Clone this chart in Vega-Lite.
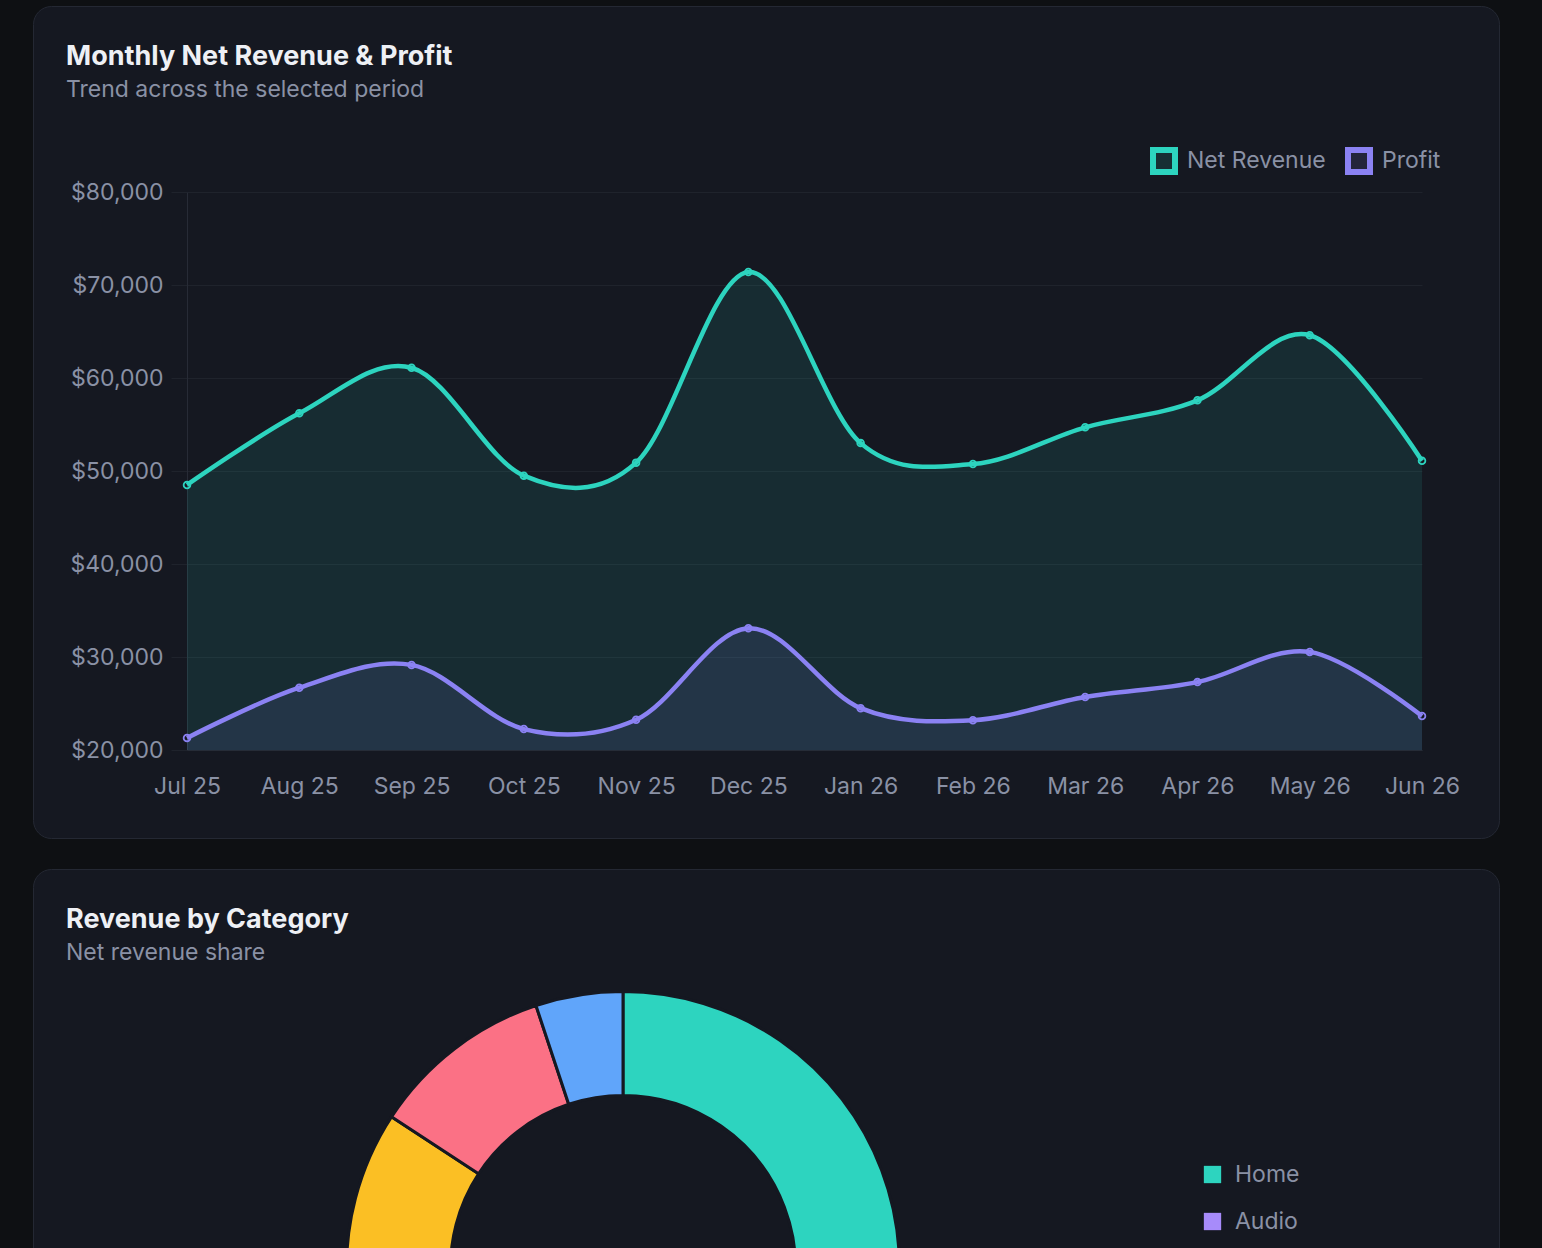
{
  "$schema": "https://vega.github.io/schema/vega-lite/v6.json",
  "background": "#0e1013",
  "padding": {"left": 32, "top": 5, "right": 44, "bottom": 0},
  "spacing": 29,
  "resolve": {
    "scale": {"color": "independent", "x": "independent", "y": "independent", "theta": "independent"},
    "legend": {"color": "independent"}
  },
  "config": {
    "font": "Inter",
    "view": {"stroke": null}
  },
  "vconcat": [
    {
      "width": 1466,
      "height": 832,
      "view": {"fill": "#151821", "stroke": "#242833", "strokeWidth": 1, "cornerRadius": 18},
      "title": {
        "text": "Monthly Net Revenue & Profit",
        "subtitle": "Trend across the selected period",
        "anchor": "start",
        "frame": "group",
        "offset": -97,
        "dx": 33,
        "font": "Inter",
        "fontSize": 27,
        "fontWeight": 700,
        "color": "#eef0f5",
        "subtitleFont": "Inter",
        "subtitleFontSize": 23,
        "subtitleColor": "#8a91a5",
        "subtitlePadding": 8
      },
      "data": {
        "values": [
          {"month": "Jul 25", "series": "Net Revenue", "value": 48500},
          {"month": "Aug 25", "series": "Net Revenue", "value": 56200},
          {"month": "Sep 25", "series": "Net Revenue", "value": 61100},
          {"month": "Oct 25", "series": "Net Revenue", "value": 49500},
          {"month": "Nov 25", "series": "Net Revenue", "value": 50900},
          {"month": "Dec 25", "series": "Net Revenue", "value": 71400},
          {"month": "Jan 26", "series": "Net Revenue", "value": 53000},
          {"month": "Feb 26", "series": "Net Revenue", "value": 50750},
          {"month": "Mar 26", "series": "Net Revenue", "value": 54700},
          {"month": "Apr 26", "series": "Net Revenue", "value": 57600},
          {"month": "May 26", "series": "Net Revenue", "value": 64600},
          {"month": "Jun 26", "series": "Net Revenue", "value": 51100},
          {"month": "Jul 25", "series": "Profit", "value": 21300},
          {"month": "Aug 25", "series": "Profit", "value": 26700},
          {"month": "Sep 25", "series": "Profit", "value": 29150},
          {"month": "Oct 25", "series": "Profit", "value": 22250},
          {"month": "Nov 25", "series": "Profit", "value": 23250},
          {"month": "Dec 25", "series": "Profit", "value": 33100},
          {"month": "Jan 26", "series": "Profit", "value": 24500},
          {"month": "Feb 26", "series": "Profit", "value": 23200},
          {"month": "Mar 26", "series": "Profit", "value": 25700},
          {"month": "Apr 26", "series": "Profit", "value": 27300},
          {"month": "May 26", "series": "Profit", "value": 30550},
          {"month": "Jun 26", "series": "Profit", "value": 23650}
        ]
      },
      "encoding": {
        "x": {
          "field": "month",
          "type": "ordinal",
          "sort": ["Jul 25", "Aug 25", "Sep 25", "Oct 25", "Nov 25", "Dec 25", "Jan 26", "Feb 26", "Mar 26", "Apr 26", "May 26", "Jun 26"],
          "scale": {"type": "point", "padding": 0, "range": [154, 1389]},
          "axis": {
            "title": null,
            "offset": -88,
            "ticks": false,
            "tickSize": 0,
            "grid": false,
            "domain": true,
            "domainColor": "#262c37",
            "labelAngle": 0,
            "labelFont": "Inter",
            "labelFontSize": 23,
            "labelColor": "#8a91a5",
            "labelPadding": 25,
            "zindex": 1
          }
        },
        "y": {
          "field": "value",
          "type": "quantitative",
          "stack": null,
          "scale": {"domain": [20000, 80000], "range": [744, 186], "nice": false, "zero": false},
          "axis": {
            "title": null,
            "offset": -154,
            "values": [20000, 30000, 40000, 50000, 60000, 70000, 80000],
            "format": "$,.0f",
            "grid": true,
            "gridColor": "#1f232c",
            "tickSize": 16,
            "tickColor": "#1f232c",
            "domain": true,
            "domainColor": "#272b36",
            "labelFont": "Inter",
            "labelFontSize": 23,
            "labelColor": "#8a91a5",
            "labelPadding": 8
          }
        },
        "color": {
          "field": "series",
          "type": "nominal",
          "scale": {"domain": ["Net Revenue", "Profit"], "range": ["#2dd4bf", "#8b82f3"]},
          "legend": {
            "orient": "none",
            "legendX": 1117,
            "legendY": 141,
            "direction": "horizontal",
            "title": null,
            "padding": 0,
            "symbolType": "square",
            "symbolSize": 484,
            "symbolStrokeWidth": 6,
            "labelFont": "Inter",
            "labelFontSize": 23,
            "labelColor": "#8a91a5",
            "labelOffset": 9,
            "columnPadding": 10,
            "encode": {
              "symbols": {
                "update": {
                  "fill": {"signal": "datum.value === 'Profit' ? '#a27cf8' : '#2dd4bf'"},
                  "fillOpacity": {"value": 0.12},
                  "stroke": {"signal": "datum.value === 'Profit' ? '#a27cf8' : '#2dd4bf'"},
                  "strokeWidth": {"value": 6},
                  "opacity": {"value": 1}
                }
              }
            }
          }
        }
      },
      "layer": [
        {
          "mark": {"type": "area", "interpolate": "cardinal", "fillOpacity": 0.11},
          "encoding": {"y2": {"datum": 20000}}
        },
        {
          "mark": {"type": "line", "interpolate": "cardinal", "strokeWidth": 4.5}
        },
        {
          "mark": {"type": "point", "filled": false, "size": 45, "strokeWidth": 1.8, "opacity": 1}
        }
      ]
    },
    {
      "width": 1466,
      "height": 798,
      "view": {"fill": "#151821", "stroke": "#242833", "strokeWidth": 1, "cornerRadius": 18},
      "title": {
        "text": "Revenue by Category",
        "subtitle": "Net revenue share",
        "anchor": "start",
        "frame": "group",
        "offset": -97,
        "dx": 33,
        "font": "Inter",
        "fontSize": 27,
        "fontWeight": 700,
        "color": "#eef0f5",
        "subtitleFont": "Inter",
        "subtitleFontSize": 23,
        "subtitleColor": "#8a91a5",
        "subtitlePadding": 8
      },
      "data": {
        "values": [
          {"category": "Home", "revenue": 257600},
          {"category": "Audio", "revenue": 164000},
          {"category": "Kitchen", "revenue": 141900},
          {"category": "Outdoor", "revenue": 71600},
          {"category": "Accessories", "revenue": 34100}
        ]
      },
      "mark": {"type": "arc", "outerRadius": 276.5, "innerRadius": 172.5, "stroke": "#151821", "strokeWidth": 3},
      "encoding": {
        "theta": {"field": "revenue", "type": "quantitative", "stack": true},
        "order": {"field": "revenue", "sort": "descending"},
        "x": {"datum": "donut", "type": "nominal", "scale": {"type": "point", "range": [0, 1180]}, "axis": null},
        "color": {
          "field": "category",
          "type": "nominal",
          "scale": {
            "domain": ["Home", "Audio", "Kitchen", "Outdoor", "Accessories"],
            "range": ["#2dd4bf", "#a78bfa", "#fbbf24", "#fb7185", "#60a5fa"]
          },
          "legend": {
            "orient": "none",
            "legendX": 1168,
            "legendY": 294,
            "direction": "vertical",
            "title": null,
            "padding": 0,
            "symbolType": "square",
            "symbolSize": 300,
            "symbolStrokeWidth": 0,
            "symbolOpacity": 1,
            "labelFont": "Inter",
            "labelFontSize": 23,
            "labelColor": "#8a91a5",
            "labelOffset": 11,
            "rowPadding": 23
          }
        }
      }
    }
  ]
}
